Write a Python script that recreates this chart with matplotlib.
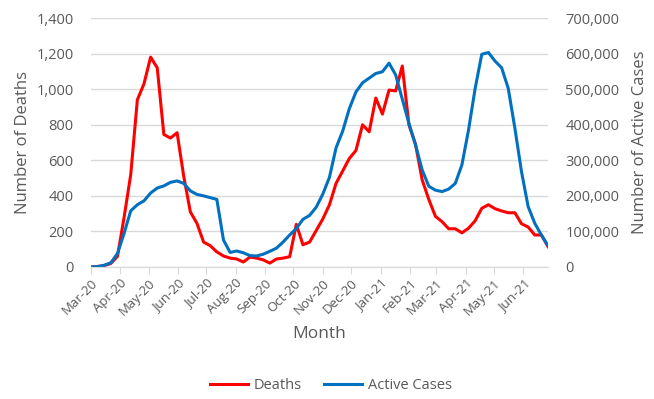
import numpy as np
import pandas as pd
import matplotlib.pyplot as plt
import matplotlib.dates as mdates
from matplotlib.ticker import FuncFormatter

# weekly data, starting 1 Mar 2020
dates = pd.date_range("2020-03-01", periods=70, freq="7D")

deaths = [0, 3, 8, 20, 60, 280, 520, 940, 1030, 1180,
          1120, 745, 725, 755, 510, 310, 245, 140, 120, 85,
          62, 50, 45, 28, 56, 50, 40, 22, 45, 50,
          58, 240, 125, 140, 205, 270, 350, 470, 540, 610,
          655, 800, 760, 950, 860, 995, 990, 1130, 800, 690,
          490, 380, 285, 255, 215, 215, 192, 218, 260, 330,
          350, 328, 315, 305, 305, 243, 225, 180, 180, 115]

active = [0, 1000, 5000, 12000, 38000, 95000, 158000, 175000, 186000, 208000,
          222000, 228000, 238000, 242000, 235000, 214000, 204000, 200000, 195000, 190000,
          76000, 41000, 45000, 40000, 32000, 31000, 36000, 44000, 53000, 70000,
          90000, 108000, 134000, 145000, 168000, 205000, 252000, 335000, 382000, 445000,
          492000, 518000, 531000, 544000, 549000, 573000, 540000, 472000, 404000, 343000,
          273000, 227000, 216000, 212000, 219000, 235000, 287000, 385000, 502000, 598000,
          603000, 579000, 560000, 502000, 390000, 268000, 170000, 123000, 90000, 60000]

month_ticks = pd.date_range("2020-03-01", "2021-06-01", freq="MS")

plt.rcParams['font.family'] = ['Open Sans', 'DejaVu Sans']
grey = '#595959'

fig = plt.figure(figsize=(6.54, 3.99), dpi=100)
ax = fig.add_axes([91 / 654, 1 - 267 / 399, 457 / 654, 249 / 399])
ax2 = ax.twinx()

ax.set_ylim(0, 1400)
ax.set_yticks(np.arange(0, 1401, 200))
ax2.set_ylim(0, 700000)
ax2.set_yticks(np.arange(0, 700001, 100000))
ax.grid(axis='y', color='#d9d9d9', linewidth=1)
ax.set_axisbelow(True)

ld, = ax.plot(dates, deaths, color='#ff0000', linewidth=2.2, label='Deaths')
la, = ax2.plot(dates, active, color='#0070c0', linewidth=2.2, label='Active Cases')
ax.set_xlim(dates[0], dates[-1])

ax.set_xticks(month_ticks)
ax.xaxis.set_major_formatter(mdates.DateFormatter('%b-%y'))
for lbl in ax.get_xticklabels():
    lbl.set_rotation(45)
    lbl.set_ha('right')
    lbl.set_rotation_mode('anchor')

comma = FuncFormatter(lambda v, p: f"{int(v):,}")
ax.yaxis.set_major_formatter(comma)
ax2.yaxis.set_major_formatter(comma)

for a in (ax, ax2):
    for s in ('top', 'left', 'right'):
        a.spines[s].set_visible(False)
    a.spines['bottom'].set_color('#d9d9d9')
    a.tick_params(labelcolor=grey)
ax.tick_params(axis='x', length=5, color='#d9d9d9', pad=2, labelsize=9.5)
ax.tick_params(axis='y', length=0, pad=12.5, labelsize=10.5)
ax2.tick_params(axis='y', length=0, pad=12.5, labelsize=10.5)

ax.set_ylabel('Number of Deaths', fontsize=12, color=grey, labelpad=4)
ax2.set_ylabel('Number of Active Cases', fontsize=12, color=grey, labelpad=9)
ax.set_xlabel('Month', fontsize=12.5, color=grey, labelpad=6)

fig.legend(handles=[ld, la], loc='center', bbox_to_anchor=(0.506, 0.033), ncol=2,
           frameon=False, fontsize=10.5, labelcolor=grey, handlelength=2.6,
           handletextpad=0.4, columnspacing=1.5)

fig.savefig('out.png', dpi=100)
